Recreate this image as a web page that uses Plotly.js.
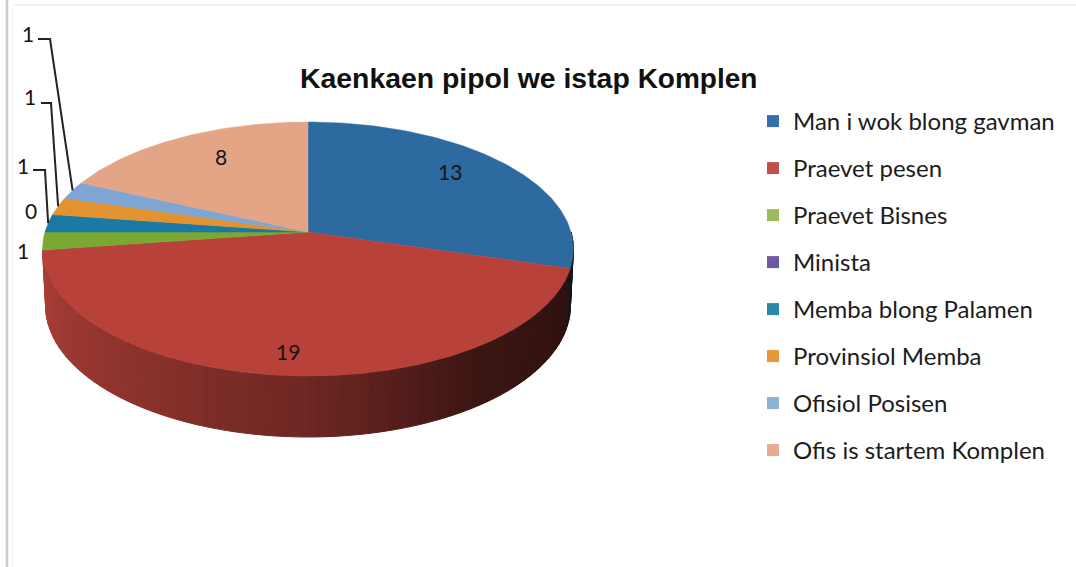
<!DOCTYPE html>
<html><head><meta charset="utf-8">
<script src="https://cdn.plot.ly/plotly-3.0.1.min.js"></script>
<style>html,body{margin:0;padding:0;background:#fff}#c{width:1076px;height:567px}</style>
</head><body><div id="c"></div><script>
const categories=["Man i wok blong gavman","Praevet pesen","Praevet Bisnes","Minista","Memba blong Palamen","Provinsiol Memba","Ofisiol Posisen","Ofis is startem Komplen"];
const values=[13,19,1,0,1,1,1,8];
const colors=["#2c6aa0","#b8423a","#7ba733","#6d4f8e","#1b7aa3","#e2922e","#7fa5d3","#e3a585"];
const legendColors=["#3670a8","#c0504d","#9bbb59","#7059a0","#2f86a8","#e8963a","#8fb0d8","#e6ab92"];
const labelPos=[[450,171],[288,351],[23,250],[31,210],[23,165],[30,96],[28,33],[221,156]];
const leaderElbows=[null,null,null,null,[[33,170],[45,170]],[[41,103],[51,103]],[[38,39],[50,39]],null];

const cx=308,cy=232,rx=263,ry=124.7,k=0.134;
const bx=260,by=128.7,bcy=288.4;
function rimTop(t){const r=t*Math.PI/180,u=Math.sin(r),v=-Math.cos(r);const d=1-k*v;return [cx+rx*u/d,cy+ry*v/d];}
function rimBot(t){const r=t*Math.PI/180,u=Math.sin(r),v=-Math.cos(r);const d=1-k*v;return [cx+bx*u/d,bcy+by*v/d];}
const total=values.reduce((a,b)=>a+b,0);
const starts=[];let acc=0;values.forEach(v=>{starts.push(acc/total*360);acc+=v;});
function hex(c,f){const n=parseInt(c.slice(1),16);const p=[n>>16,(n>>8)&255,n&255].map(x=>Math.round(x*f));return `rgb(${p[0]},${p[1]},${p[2]})`;}
const shadeStops=[[0,0.2],[0.31,0.33],[0.5,0.6],[0.75,0.8],[1,0.97]];
function shade(t){const s=(t-90)/180;for(let i=1;i<shadeStops.length;i++){const a=shadeStops[i-1],b=shadeStops[i];if(s<=b[0])return a[1]+(b[1]-a[1])*(s-a[0])/(b[0]-a[0]);}return 0.97;}
const data=[];
const step=2;
values.slice(0,2).forEach((v,i)=>{
  const a=starts[i],b=a+v/total*360;
  for(let t=Math.max(a,90);t<b-1e-6;t+=step){
    const e=Math.min(t+step,b);
    const p=[rimTop(t),rimTop(e),rimBot(e),rimBot(t),rimTop(t)];
    const col=hex(colors[i],shade(t));
    data.push({type:"scatter",mode:"lines",x:p.map(q=>q[0]),y:p.map(q=>q[1]),fill:"toself",fillcolor:col,line:{color:col,width:1},showlegend:false,hoverinfo:"skip"});
  }
});
values.forEach((v,i)=>{
  if(v===0)return;
  const a=starts[i],b=a+v/total*360;const xs=[cx],ys=[cy];
  for(let t=a;t<b;t+=1){const q=rimTop(t);xs.push(q[0]);ys.push(q[1]);}
  const q=rimTop(b);xs.push(q[0],cx);ys.push(q[1],cy);
  data.push({type:"scatter",mode:"lines",x:xs,y:ys,fill:"toself",fillcolor:colors[i],line:{color:colors[i],width:0.5},showlegend:false,hoverinfo:"skip"});
});
values.forEach((v,i)=>{
  if(!leaderElbows[i])return;
  const q=rimTop(starts[i]+v/total*180);
  const p=leaderElbows[i].concat([q]);
  data.push({type:"scatter",mode:"lines",x:p.map(z=>z[0]),y:p.map(z=>z[1]),line:{color:"#222",width:2},showlegend:false,hoverinfo:"skip"});
});
categories.forEach((c,i)=>{
  data.push({type:"scatter",mode:"markers",x:[-100],y:[-100],name:c,legendgroup:"g"+i,marker:{symbol:"square",size:12,color:legendColors[i]},hoverinfo:"skip"});
});
const annotations=values.map((v,i)=>({x:labelPos[i][0],y:labelPos[i][1],xref:"x",yref:"y",text:String(v),showarrow:false,font:{family:"Lato, sans-serif",size:21,color:"#151515"}}));
const edge=(a,b,c,d,col,w)=>({type:"line",xref:"x",yref:"y",x0:a,y0:b,x1:c,y1:d,line:{color:col,width:w},layer:"below"});
const layout={
  width:1076,height:567,margin:{l:0,r:0,t:0,b:0},paper_bgcolor:"#fff",plot_bgcolor:"#fff",
  xaxis:{range:[0,1076],visible:false,fixedrange:true},
  yaxis:{range:[567,0],visible:false,fixedrange:true},
  title:{text:'Kaenkaen pipol we istap <span style="font-size:28px">Komplen</span>',xref:"container",yref:"container",x:300/1076,xanchor:"left",y:1-78/567,yanchor:"middle",font:{family:"Liberation Sans, Arial, sans-serif",size:28.4,color:"#111",weight:"bold"}},
  legend:{x:753/1076,xanchor:"left",y:1-99/567,yanchor:"top",font:{family:"Lato, sans-serif",size:24,color:"#1c1c1c"},tracegroupgap:12.8,bgcolor:"rgba(0,0,0,0)",itemclick:false,itemdoubleclick:false},
  showlegend:true,
  annotations,
  shapes:[edge(7,0,7,567,"#c9c9c9",2.5),edge(13,8,13,567,"#f2f2f2",1.5),edge(14,5,1076,5,"#f0f0f0",2)]
};
Plotly.newPlot("c",data,layout,{displayModeBar:false,staticPlot:true});
</script></body></html>
